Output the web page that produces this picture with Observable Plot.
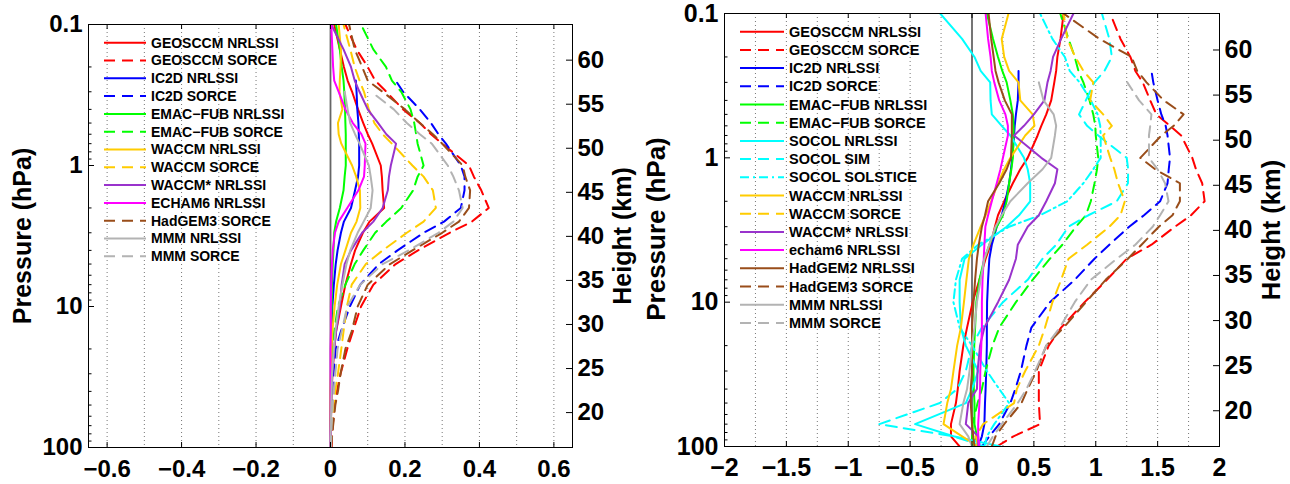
<!DOCTYPE html>
<html><head><meta charset="utf-8">
<script src="https://cdn.jsdelivr.net/npm/d3@7"></script>
<script src="https://cdn.jsdelivr.net/npm/@observablehq/plot@0.6"></script>
<style>
body{margin:0;background:#fff;}
#wrap{position:relative;width:1290px;height:484px;overflow:hidden;font-family:"Liberation Sans",Arial,Helvetica,sans-serif;}
#wrap svg{position:absolute;top:0;overflow:visible;}
</style></head><body><div id="wrap"></div>
<script>
// pressure levels (hPa)
const pressure = [100, 85, 70, 50, 40, 30, 20, 15, 10, 7, 5, 4, 3, 2.5, 2, 1.5, 1.2, 1, 0.7, 0.6, 0.5, 0.4, 0.3, 0.25, 0.2, 0.15, 0.1];

// ---- left panel series ----
const geosNrlL  = [0,0,0.001,0.002,0.003,0.005,0.01,0.015,0.028,0.04,0.055,0.066,0.087,0.105,0.144,0.14,0.138,0.135,0.112,0.1,0.088,0.074,0.058,0.046,0.036,0.025,0.01];
const geosSorL  = [0.003,0.004,0.006,0.011,0.017,0.027,0.045,0.06,0.082,0.115,0.175,0.235,0.32,0.38,0.425,0.405,0.385,0.372,0.3,0.27,0.24,0.195,0.15,0.12,0.1,0.07,0.04];
const ic2dNrlL  = [0,0,0,0.001,0.001,0.002,0.003,0.004,0.005,0.009,0.014,0.019,0.028,0.036,0.055,0.066,0.074,0.077,0.077,0.076,0.075,0.072,0.07,0.068,null,null,null];
const ic2dSorL  = [0.001,0.001,0.002,0.004,0.005,0.008,0.014,0.028,0.052,0.08,0.13,0.18,0.25,0.305,0.35,0.36,0.36,0.35,0.31,0.29,0.27,0.24,0.195,0.175,null,null,null];
const emacNrlL  = [0,0,0,0,0,0.001,0.001,0.002,0.003,0.004,0.006,0.008,0.01,0.015,0.025,0.035,0.038,0.041,0.041,0.041,0.04,0.039,0.037,0.035,0.03,0.025,0.015];
const emacSorL  = [0,0,0,0.001,0.002,0.003,0.006,0.01,0.02,0.04,0.065,0.088,0.12,0.15,0.19,0.222,0.234,0.25,0.234,0.23,0.225,0.215,0.19,0.165,0.149,0.115,0.082];
const waccmNrlL = [0,0,0,0,0,0.001,0.003,0.005,0.011,0.018,0.028,0.04,0.055,0.07,0.08,0.079,0.069,0.058,0.029,0.022,0.02,0.032,0.024,0.025,0.027,0.028,0.022];
const waccmSorL = [0.001,0.002,0.004,0.008,0.013,0.02,0.029,0.035,0.044,0.057,0.095,0.14,0.205,0.25,0.283,0.275,0.25,0.22,0.165,0.14,0.118,0.103,0.09,0.078,0.065,0.053,0.035];
const waccmStarL= [0,0,0.001,0.002,0.003,0.005,0.01,0.015,0.025,0.03,0.038,0.055,0.085,0.115,0.14,0.154,0.157,0.162,0.176,0.15,0.128,0.1,0.078,0.065,0.055,0.035,0.002];
const echamL    = [0,0,0,0,0,0,0,0.001,0.001,0.002,0.004,0.006,0.012,0.022,0.045,0.075,0.09,0.092,0.094,0.083,0.06,0.04,0.022,0.01,0.007,0.005,0.002];
const hadgem3L  = [0.002,0.004,0.007,0.013,0.02,0.027,0.04,0.057,0.073,0.1,0.16,0.22,0.3,0.345,0.372,0.375,0.362,0.355,0.3,0.275,0.24,0.2,0.14,0.1,0.085,0.065,0.05];
const mmmNrlL   = [0,0,0.001,0.002,0.003,0.004,0.009,0.013,0.022,0.032,0.043,0.053,0.073,0.089,0.108,0.113,0.108,0.103,0.078,0.066,0.053,0.046,0.038,null,null,null,null];
const mmmSorL   = [0.001,0.002,0.003,0.006,0.009,0.013,0.019,0.03,0.045,0.08,0.14,0.21,0.29,0.33,0.355,0.345,0.33,0.315,0.272,0.24,0.205,0.17,0.11,null,null,null,null];

// ---- right panel series ----
const geosNrlR  = [-0.1,-0.17,-0.17,-0.13,-0.115,-0.1,-0.07,-0.04,0.005,0.06,0.11,0.15,0.185,0.21,0.26,0.33,0.39,0.45,0.53,0.56,0.6,0.64,0.665,0.68,0.69,0.715,0.74];
const geosSorR  = [0.2,0.335,0.55,0.54,0.54,0.54,0.62,0.72,0.91,1.09,1.25,1.45,1.64,1.77,1.88,1.86,1.81,1.78,1.69,1.6,1.49,1.44,1.38,1.32,1.28,1.2,1.117];
const ic2dNrlR  = [0.05,0.08,0.1,0.105,0.11,0.115,0.12,0.12,0.122,0.13,0.14,0.16,0.2,0.24,0.27,0.3,0.315,0.325,0.34,0.345,0.355,0.37,0.376,0.376,null,null,null];
const ic2dSorR  = [0.08,0.14,0.22,0.31,0.35,0.395,0.44,0.48,0.63,0.83,0.99,1.11,1.27,1.39,1.52,1.58,1.59,1.6,1.58,1.565,1.53,1.5,1.465,1.45,null,null,null];
const emacNrlR  = [0,0.04,0.02,0.02,0.015,0.012,0.018,0.025,0.035,0.06,0.1,0.14,0.2,0.25,0.28,0.3,0.318,0.33,0.336,0.336,0.33,0.31,0.28,0.245,0.21,0.17,0.12];
const emacSorR  = [0,0,0.005,0.045,0.08,0.11,0.165,0.22,0.355,0.49,0.63,0.73,0.84,0.92,0.96,0.99,1.01,1.02,1.0,0.996,0.98,0.95,0.9,0.86,0.83,0.78,0.713];
const socolNrlR = [0.23,-0.15,-0.46,-0.05,0,0.05,-0.05,-0.09,-0.1,-0.1,-0.06,0.08,0.28,0.38,0.47,0.47,0.45,0.42,0.31,0.24,0.16,0.15,0.147,0.07,0.02,-0.08,-0.257];
const socolSimR = [0.1,-0.15,-0.75,-0.26,-0.12,-0.05,0,0.08,0.25,0.45,0.57,0.68,0.78,0.94,1.17,1.26,1.262,1.25,1.02,0.93,0.865,0.92,0.99,1.07,1.13,1.11,1.05];
const socolSolR = [0.1,0.12,0.18,0.3,0.22,0.12,0,-0.1,-0.15,-0.13,-0.08,0.05,0.3,0.55,0.77,0.9,0.98,1.04,1.04,1.036,1.015,0.96,0.87,0.79,0.75,0.65,0.55];
const waccmNrlR = [0.05,-0.08,-0.23,-0.2,-0.17,-0.15,-0.12,-0.09,-0.065,-0.045,-0.025,0.012,0.07,0.11,0.155,0.21,0.26,0.31,0.43,0.505,0.49,0.39,0.376,0.3,0.26,0.24,0.295];
const waccmSorR = [0.05,0.03,0.09,0.34,0.362,0.43,0.54,0.59,0.65,0.72,0.78,0.93,1.11,1.2,1.235,1.18,1.15,1.117,1.06,1.13,1.06,0.955,0.98,0.9,0.834,0.77,0.74];
const waccmStarR= [0.05,0.05,-0.05,-0.03,0.04,0.045,0.065,0.1,0.21,0.3,0.355,0.37,0.45,0.54,0.6,0.67,0.69,0.56,0.34,0.42,0.5,0.585,0.61,0.635,0.655,0.72,0.82];
const echamR    = [0.06,0.05,0.05,0.06,0.065,0.067,0.075,0.08,0.08,0.085,0.095,0.1,0.108,0.13,0.16,0.2,0.23,0.25,0.29,0.29,0.27,0.22,0.18,0.16,0.15,0.13,0.11];
const hadgem2R  = [0.02,0.01,0,-0.01,-0.01,0,0,0,0.012,0.025,0.04,0.055,0.08,0.105,0.13,0.22,0.28,0.315,0.322,0.322,0.322,0.265,0.215,0.19,0.175,0.155,0.134];
const hadgem3R  = [0.16,0.19,0.26,0.4,0.45,0.52,0.6,0.74,0.92,1.08,1.26,1.37,1.51,1.62,1.68,1.68,1.48,1.36,1.53,1.63,1.71,1.55,1.41,1.335,1.29,1.03,0.74];
const mmmNrlR   = [0,-0.03,-0.1,-0.07,-0.04,-0.02,0,0.02,0.04,0.07,0.1,0.14,0.19,0.24,0.31,0.45,0.57,0.64,0.67,0.68,0.66,0.578,0.54,null,null,null,null];
const mmmSorR   = [0.12,0.17,0.24,0.37,0.44,0.51,0.6,0.71,0.83,0.96,1.17,1.32,1.46,1.52,1.588,1.56,1.5,1.43,1.43,1.44,1.45,1.35,1.255,null,null,null,null];

// tick labels
const pressureTicks = [0.1, 1, 10, 100];
const pressureMinor = [0.2,0.3,0.4,0.5,0.6,0.7,0.8,0.9,2,3,4,5,6,7,8,9,20,30,40,50,60,70,80,90];
const heightTicks = [20, 25, 30, 35, 40, 45, 50, 55, 60];
const xTicksL = [-0.6, -0.4, -0.2, 0, 0.2, 0.4, 0.6];
const xGridL = [-0.6,-0.5,-0.4,-0.3,-0.2,-0.1,0.1,0.2,0.3,0.4,0.5,0.6];
const xTicksR = [-2, -1.5, -1, -0.5, 0, 0.5, 1, 1.5, 2];
const xGridR = [-1.75,-1.5,-1.25,-1,-0.75,-0.5,-0.25,0.25,0.5,0.75,1,1.25,1.5,1.75];

// styles
const C = {red:"#ff0000", blue:"#0000ff", green:"#00ff00", cyan:"#00ffff", gold:"#ffcc00",
           purple:"#9933cc", magenta:"#ff00ff", brown:"#994d1a", gray:"#b3b3b3"};
const SOLID = null, DASH = "11,7", DASHDOT = "9,4,2,4";

const seriesL = [
  ["GEOSCCM NRLSSI", geosNrlL, C.red, SOLID],
  ["GEOSCCM SORCE", geosSorL, C.red, DASH],
  ["IC2D NRLSSI", ic2dNrlL, C.blue, SOLID],
  ["IC2D SORCE", ic2dSorL, C.blue, DASH],
  ["EMAC\u2212FUB NRLSSI", emacNrlL, C.green, SOLID],
  ["EMAC\u2212FUB SORCE", emacSorL, C.green, DASH],
  ["WACCM NRLSSI", waccmNrlL, C.gold, SOLID],
  ["WACCM SORCE", waccmSorL, C.gold, DASH],
  ["WACCM* NRLSSI", waccmStarL, C.purple, SOLID],
  ["ECHAM6 NRLSSI", echamL, C.magenta, SOLID],
  ["HadGEM3 SORCE", hadgem3L, C.brown, DASH],
  ["MMM NRLSSI", mmmNrlL, C.gray, SOLID],
  ["MMM SORCE", mmmSorL, C.gray, DASH]
];
const seriesR = [
  ["GEOSCCM NRLSSI", geosNrlR, C.red, SOLID],
  ["GEOSCCM SORCE", geosSorR, C.red, DASH],
  ["IC2D NRLSSI", ic2dNrlR, C.blue, SOLID],
  ["IC2D SORCE", ic2dSorR, C.blue, DASH],
  ["EMAC\u2212FUB NRLSSI", emacNrlR, C.green, SOLID],
  ["EMAC\u2212FUB SORCE", emacSorR, C.green, DASH],
  ["SOCOL NRLSSI", socolNrlR, C.cyan, SOLID],
  ["SOCOL SIM", socolSimR, C.cyan, DASH],
  ["SOCOL SOLSTICE", socolSolR, C.cyan, DASHDOT],
  ["WACCM NRLSSI", waccmNrlR, C.gold, SOLID],
  ["WACCM SORCE", waccmSorR, C.gold, DASH],
  ["WACCM* NRLSSI", waccmStarR, C.purple, SOLID],
  ["echam6 NRLSSI", echamR, C.magenta, SOLID],
  ["HadGEM2 NRLSSI", hadgem2R, C.brown, SOLID],
  ["HadGEM3 SORCE", hadgem3R, C.brown, DASH],
  ["MMM NRLSSI", mmmNrlR, C.gray, SOLID],
  ["MMM SORCE", mmmSorR, C.gray, DASH]
];

// height axis: scale-height relation between km and hPa
const P0 = 1005, HS = 6.95;
const heightP = heightTicks.map(z => P0 * Math.exp(-z / HS));
const heightOf = p => String(Math.round(HS * Math.log(P0 / p)));
const fmtX = d3.format("");
const FONT = "Liberation Sans, Arial, Helvetica, sans-serif";

function panel(cfg) {
  const {series, xDomain, xTicks, xGrid, width, height, m, tickFont, left, legend, titles} = cfg;
  const fw = width - m.l - m.r, fh = height - m.t - m.b;
  const marks = [
    Plot.ruleX(xGrid, {x: d => d, stroke: "#777", strokeWidth: 1, strokeDasharray: "1,3"}),
    Plot.ruleX([0], {x: d => d, stroke: "#666", strokeWidth: 1.8})
  ];
  for (const [name, vals, color, dash] of series) {
    const data = pressure.map((p, i) => ({p, v: vals[i]})).filter(d => d.v != null);
    marks.push(Plot.line(data, {x: "v", y: "p", stroke: color, strokeWidth: 2,
      strokeDasharray: dash || undefined, clip: true}));
  }
  marks.push(
    Plot.frame({stroke: "#000", strokeWidth: 1}),
    Plot.tickX(xTicks, {x: d => d, insetTop: fh - 5, stroke: "#000"}),
    Plot.tickX(xTicks, {x: d => d, insetBottom: fh - 5, stroke: "#000"}),
    Plot.tickY(pressureTicks, {y: d => d, insetRight: fw - 6, stroke: "#000"}),
    Plot.tickY(pressureMinor, {y: d => d, insetRight: fw - 3.5, stroke: "#000"}),
    Plot.tickY(heightP, {y: d => d, insetLeft: fw - 6, stroke: "#000"}),
    Plot.axisX({ticks: xTicks, tickSize: 0, tickPadding: 12, tickFormat: fmtX,
      fontSize: tickFont, fontWeight: "bold", label: null}),
    Plot.axisY({ticks: pressureTicks, tickSize: 0, tickPadding: 6, tickFormat: d => String(d),
      fontSize: tickFont, fontWeight: "bold", label: null}),
    Plot.text(heightP, {y: d => d, text: heightOf, frameAnchor: "right", dx: 5,
      textAnchor: "start", fontSize: tickFont, fontWeight: "bold", fill: "#000"})
  );
  const svg = Plot.plot({
    width, height, marginLeft: m.l, marginRight: m.r, marginTop: m.t, marginBottom: m.b,
    style: {fontFamily: FONT, background: "transparent", color: "#000", overflow: "visible"},
    x: {domain: xDomain},
    y: {type: "log", domain: [0.1, 100], reverse: true},
    marks
  });
  svg.style.left = left + "px";
  const s = d3.select(svg);
  // legend
  const g = s.append("g").attr("font-family", FONT).attr("font-weight", "bold")
    .attr("font-size", legend.fs).attr("text-anchor", "start");
  series.forEach(([name, vals, color, dash], i) => {
    const y = legend.y0 + i * legend.dy;
    g.append("line").attr("x1", legend.x0).attr("x2", legend.x1).attr("y1", y).attr("y2", y)
      .attr("stroke", color).attr("stroke-width", 2).attr("stroke-dasharray", dash || null);
    g.append("text").attr("x", legend.tx).attr("y", y).attr("dy", "0.35em")
      .attr("text-anchor", "start").attr("fill", "#000").text(name);
  });
  // axis titles
  for (const t of titles) {
    s.append("text").attr("transform", `translate(${t.x},${t.y}) rotate(-90)`)
      .attr("text-anchor", "middle").attr("dominant-baseline", "central")
      .attr("font-family", FONT).attr("font-weight", "bold").attr("font-size", t.fs)
      .attr("fill", "#000").text(t.text);
  }
  return svg;
}

const wrap = document.getElementById("wrap");
wrap.appendChild(panel({
  series: seriesL, xDomain: [-0.65, 0.65], xTicks: xTicksL, xGrid: xGridL,
  width: 640, height: 484, m: {l: 88, r: 68, t: 24, b: 37}, tickFont: 24, left: 0,
  legend: {x0: 104, x1: 146, tx: 151, y0: 42.7, dy: 17.8, fs: 14},
  titles: [{text: "Pressure (hPa)", x: 21.5, y: 236, fs: 25}, {text: "Height (km)", x: 622, y: 236, fs: 25}]
}));
wrap.appendChild(panel({
  series: seriesR, xDomain: [-2, 2], xTicks: xTicksR, xGrid: xGridR,
  width: 650, height: 484, m: {l: 84, r: 71, t: 13, b: 38}, tickFont: 25, left: 640,
  legend: {x0: 100, x1: 144, tx: 149, y0: 31.7, dy: 18.2, fs: 14.5},
  titles: [{text: "Pressure (hPa)", x: 15.5, y: 229, fs: 26}, {text: "Height (km)", x: 631, y: 230, fs: 25.5}]
}));
</script></body></html>
